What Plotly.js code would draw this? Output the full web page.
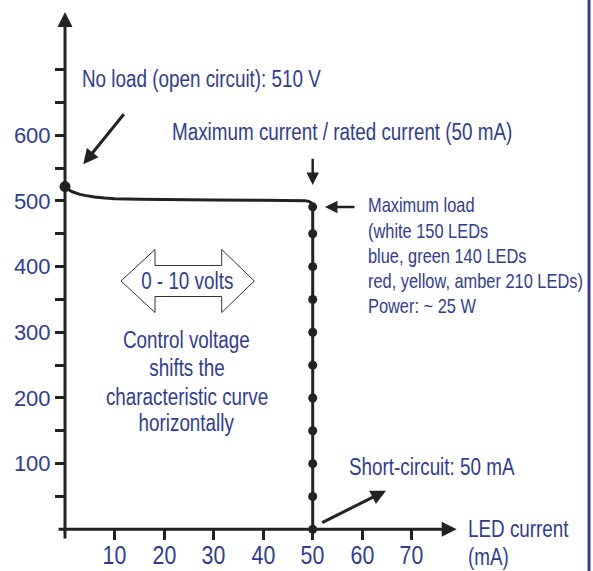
<!DOCTYPE html>
<html>
<head>
<meta charset="utf-8">
<script src="https://cdn.plot.ly/plotly-3.0.1.min.js"></script>
<style>html,body{margin:0;padding:0;background:#fff;}#chart{width:593px;height:571px;}</style>
</head>
<body>
<div id="chart"></div>
<script>
// ---- data ----
// characteristic curve: LED current (mA) vs output voltage (V)
const curveCurrent = [0, 0.5, 1, 1.5, 2, 3, 4, 5, 6, 8, 10, 15, 20, 30, 40, 47, 48.5, 49.3, 49.7, 49.9, 50, 50];
const curveVoltage = [522, 518.5, 516, 514, 512.5, 510, 508.5, 507, 506, 504.5, 503.5, 502.5, 502, 501.5, 501.2, 501, 500.5, 499, 497, 494.5, 491, 0];
// no-load point
const noLoadCurrent = [0];
const noLoadVoltage = [522];
// load points along the vertical (constant-current) segment
const loadCurrent = [50, 50, 50, 50, 50, 50, 50, 50, 50, 50, 50];
const loadVoltage = [491, 450, 400, 350, 300, 250, 200, 150, 100, 50, 0];
// axis ticks
const xTickVals = [10, 20, 30, 40, 50, 60, 70];
const xTickText = ['10', '20', '30', '40', '50', '60', '70'];
const yTickVals = [50, 100, 150, 200, 250, 300, 350, 400, 450, 500, 550, 600, 650, 700];
const yTickText = ['', '100', '', '200', '', '300', '', '400', '', '500', '', '600', '', ''];
// text
const loadLines = ['Maximum load', '(white 150 LEDs', 'blue, green 140 LEDs', 'red, yellow, amber 210 LEDs)', 'Power: ~ 25 W'];
const controlLines = ['Control voltage', 'shifts the', 'characteristic curve', 'horizontally'];

const INK = '#222222';
const BLUE = '#323c8c';
const FONT = '"Liberation Sans", Arial, sans-serif';
const NARROW_SCALE = 0.82;

const traces = [
  {x: curveCurrent, y: curveVoltage, mode: 'lines', line: {color: INK, width: 3}, cliponaxis: false, hoverinfo: 'skip'},
  {x: loadCurrent, y: loadVoltage, mode: 'markers', marker: {color: INK, size: 9}, cliponaxis: false, hoverinfo: 'skip'},
  {x: noLoadCurrent, y: noLoadVoltage, mode: 'markers', marker: {color: INK, size: 11}, cliponaxis: false, hoverinfo: 'skip'}
];

function txt(text, x, y, size, xanchor, opts) {
  return Object.assign({text: text, x: x, y: y, xref: 'x', yref: 'y', showarrow: false,
    xanchor: xanchor || 'left', yanchor: 'middle', align: xanchor === 'center' ? 'center' : 'left',
    font: {family: FONT, size: size || 23, color: BLUE}}, opts || {});
}
function arrow(x, y, ax, ay, w, size) {
  return {text: '', x: x, y: y, ax: ax, ay: ay, xref: 'x', yref: 'y', axref: 'x', ayref: 'y',
    showarrow: true, arrowhead: 2, arrowwidth: w || 2.5, arrowsize: size || 1, arrowcolor: INK, standoff: 0, startstandoff: 0};
}
// pixel row -> voltage (plot area mapping) / paper fraction
const py2v = py => (529.3 - py) / 0.6567;
const py2paper = py => (545 - py) / 535;

const annotations = [
  // axes with arrowheads
  arrow(79.07, 0, -1.6, 0, 3, 1),
  arrow(0, 787.7, 0, -16.3, 3, 1),
  // texts
  txt('No load (open circuit): 510 V', 3.03, 685.7),
  arrow(3.69, 555.8, 12.11, 634.4, 3, 1),
  txt('Maximum current / rated current (50 mA)', 21.2, 604.5),
  arrow(50, 524.3, 50, 566.5, 2.5, 1),
  arrow(52.48, 490.8, 58.74, 490.8, 2.5, 1),
  txt('0 - 10 volts', 24.77, 378.1, 23, 'center'),
  txt('Short-circuit: 50 mA', 56.86, 95.3),
  arrow(64.79, 58.8, 51.61, 9.1, 3, 1),
  txt('LED current', 80.89, 0),
  txt('(mA)', 80.89, py2paper(556.7), 23, 'left', {yref: 'paper'})
];
const loadRows = [205, 230.5, 256, 281, 305.5];
loadLines.forEach((s, i) => annotations.push(txt(s, 60.76, py2v(loadRows[i]), 20)));
const ctrlRows = [340, 368.3, 396.7, 423.3];
controlLines.forEach((s, i) => annotations.push(txt(s, 24.57, py2v(ctrlRows[i]), 23, 'center')));
// x tick labels (condensed)
xTickVals.forEach((v, i) => annotations.push(txt(xTickText[i], v, py2paper(571), 26, 'center', {yref: 'paper', yanchor: 'bottom', borderpad: 0})));

// double-headed outline arrow (0 - 10 volts)
const dblArrow = 'M 11.31,378.1 L 18.17,426.1 L 18.17,401.7 L 31.63,401.7 L 31.63,426.1 L 38.21,378.1 ' +
                 'L 31.63,330.1 L 31.63,354.5 L 18.17,354.5 L 18.17,330.1 Z';

const layout = {
  width: 593, height: 571,
  margin: {l: 60, r: 33, t: 10, b: 26},
  paper_bgcolor: '#ffffff', plot_bgcolor: '#ffffff',
  showlegend: false, hovermode: false,
  xaxis: {range: [-1.009, 99.92], anchor: 'free', position: 0.0293, showline: false, showgrid: false, zeroline: false,
    ticks: 'outside', ticklen: 10, tickwidth: 3, tickcolor: INK, tickvals: xTickVals, showticklabels: false},
  yaxis: {range: [-23.9, 790.8], anchor: 'free', position: 0.01, showline: false, showgrid: false, zeroline: false,
    ticks: 'outside', ticklen: 10, tickwidth: 3, tickcolor: INK, tickvals: yTickVals, ticktext: yTickText,
    tickfont: {family: FONT, size: 22, color: BLUE}},
  shapes: [
    {type: 'path', path: dblArrow, xref: 'x', yref: 'y', line: {color: '#333333', width: 1}, fillcolor: '#ffffff', layer: 'below'},
    {type: 'line', xref: 'paper', yref: 'paper', x0: 1.058, x1: 1.058, y0: -0.06, y1: 1.03, line: {color: '#3a3a96', width: 3}}
  ],
  annotations: annotations
};

Plotly.newPlot('chart', traces, layout, {displayModeBar: false, staticPlot: true}).then(gd => {
  // condense annotation texts horizontally (the reference uses a narrow typeface)
  gd.layout.annotations.forEach((a, i) => {
    if (!a.text) return;
    const t = gd.querySelector('g.annotation[data-index="' + i + '"] text.annotation-text');
    if (!t) return;
    t.style.transformBox = 'fill-box';
    t.style.transformOrigin = a.xanchor === 'center' ? '50% 50%' : '0% 50%';
    t.style.transform = 'scaleX(' + NARROW_SCALE + ')';
  });
});
</script>
</body>
</html>
